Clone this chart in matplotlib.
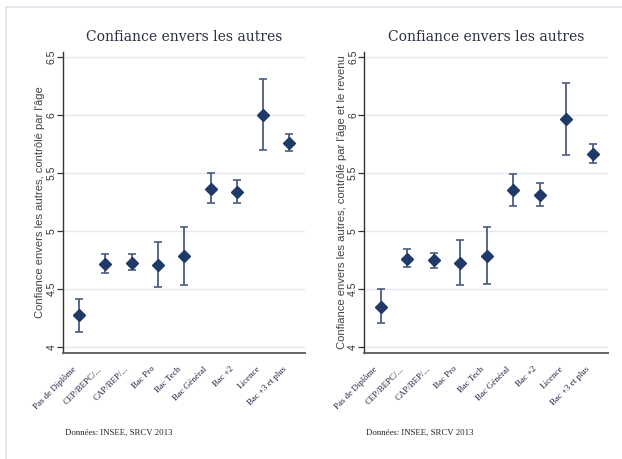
import matplotlib
matplotlib.use("Agg")
import matplotlib.pyplot as plt
from matplotlib.lines import Line2D
from matplotlib.transforms import ScaledTranslation

categories = ["Pas de Diplôme", "CEP/BEPC/...", "CAP/BEP/...", "Bac Pro", "Bac Tech",
              "Bac Général", "Bac +2", "Licence", "Bac +3 et plus"]

age_mean = [4.28, 4.72, 4.73, 4.71, 4.79, 5.365, 5.34, 6.00, 5.76]
age_low = [4.13, 4.64, 4.67, 4.52, 4.54, 5.24, 5.245, 5.70, 5.69]
age_high = [4.42, 4.80, 4.80, 4.91, 5.04, 5.50, 5.445, 6.31, 5.84]

rev_mean = [4.35, 4.76, 4.75, 4.73, 4.79, 5.36, 5.315, 5.965, 5.67]
rev_low = [4.21, 4.69, 4.68, 4.535, 4.545, 5.22, 5.22, 5.66, 5.585]
rev_high = [4.50, 4.845, 4.81, 4.925, 5.04, 5.49, 5.42, 6.28, 5.75]

yticks = [4, 4.5, 5, 5.5, 6, 6.5]
ytick_labels = ["4", "4.5", "5", "5.5", "6", "6.5"]

title = "Confiance envers les autres"
ylabels = ["Confiance envers les autres, contrôlé par l'âge",
           "Confiance envers les autres, contrôlé par l'âge et le revenu"]
caption = "Données: INSEE, SRCV 2013"

W, H = 622, 459
fig = plt.figure(figsize=(W / 100, H / 100), dpi=100)
fig.patch.set_facecolor("white")

# light frame
fig.add_artist(Line2D([6 / W, 6 / W], [0, 1 - 7 / H], color="#dfe2ee", lw=1.2,
                      transform=fig.transFigure))
fig.add_artist(Line2D([6 / W, 1], [1 - 7 / H, 1 - 7 / H], color="#dfe2ee", lw=1.2,
                      transform=fig.transFigure))

panels = [
    (62.7, 305.0, age_mean, age_low, age_high, ylabels[0]),
    (364.3, 608.3, rev_mean, rev_low, rev_high, ylabels[1]),
]

navy = "#1f3a68"
barcol = "#4d5b80"

for x0, x1, mean, low, high, ylab in panels:
    top, bottom = 52.0, 353.0
    ax = fig.add_axes([x0 / W, 1 - bottom / H, (x1 - x0) / W, (bottom - top) / H])
    xs = list(range(1, len(categories) + 1))
    yerr = [[m - l for m, l in zip(mean, low)], [h - m for m, h in zip(mean, high)]]
    ax.errorbar(xs, mean, yerr=yerr, fmt="none", ecolor=barcol, elinewidth=1.3,
                capsize=2.8, capthick=1.2, zorder=3)
    ax.plot(xs, mean, linestyle="none", marker="D", markersize=6.3, color=navy,
            markeredgecolor=navy, zorder=4)
    ax.set_xlim(0.38, 9.59)
    ax.set_ylim(3.951, 6.545)
    ax.set_yticks(yticks)
    ax.set_yticklabels(ytick_labels, rotation=90, va="center", fontsize=7.5,
                       family="Liberation Sans", color="#333333")
    ax.yaxis.grid(True, color="#e6e8f1", lw=1.0)
    ax.set_axisbelow(True)
    ax.tick_params(axis="y", length=4, width=0.9, color="#333333", pad=0.5)
    ax.set_xticks(xs)
    ax.set_xticklabels([""] * len(xs))
    ax.tick_params(axis="x", length=0)
    off = ax.get_xaxis_transform() + ScaledTranslation(-7 / 100, -12 / 100,
                                                        fig.dpi_scale_trans)
    for xv, lab in zip(xs, categories):
        ax.text(xv, 0, lab, transform=off, rotation=45, ha="right", va="top",
                rotation_mode="anchor", fontsize=6.4, family="Liberation Serif",
                color="#222244", clip_on=False)
    for s in ["top", "right"]:
        ax.spines[s].set_visible(False)
    ax.spines["left"].set_color("#333333")
    ax.spines["left"].set_linewidth(1.0)
    ax.spines["bottom"].set_color("#666666")
    ax.spines["bottom"].set_linewidth(1.4)
    ax.set_title(title, fontsize=10, family="DejaVu Serif", color="#2a2f45", pad=8)
    ax.set_ylabel(ylab, fontsize=8.1, family="Liberation Sans", color="#444444", labelpad=1)
    fig.text((x0 + 2) / W, 1 - 433 / H, caption, fontsize=6.3, family="Liberation Serif",
             color="#222222", va="center", ha="left")

fig.savefig("out.png", dpi=100, facecolor="white")
